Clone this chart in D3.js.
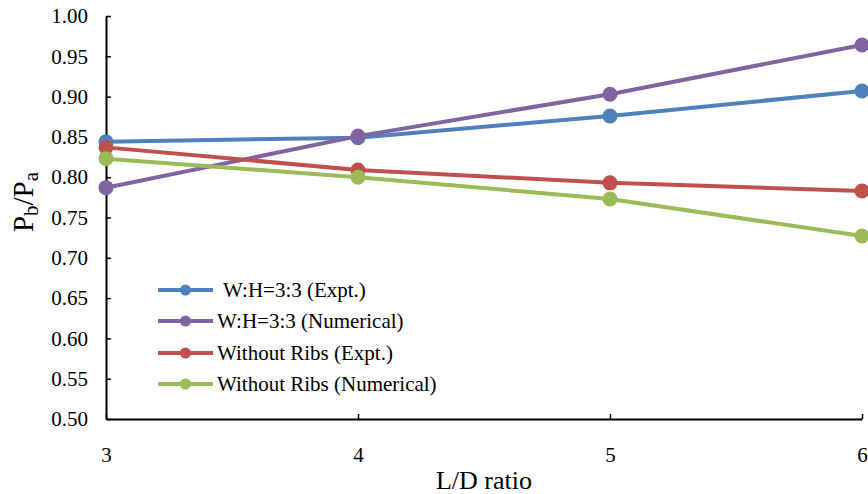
<!DOCTYPE html>
<html>
<head>
<meta charset="utf-8">
<script src="https://cdn.jsdelivr.net/npm/d3@7"></script>
<style>
  body { margin: 0; background: #fff; }
  text { font-family: "Liberation Serif", "Times New Roman", serif; fill: #000; }
</style>
</head>
<body>
<div id="chart"></div>
<script>
// chart data
var ratios = [3, 4, 5, 6];
var seriesNames = ["W:H=3:3 (Expt.)", "W:H=3:3 (Numerical)", "Without Ribs (Expt.)", "Without Ribs (Numerical)"];
var expt33 = [0.844, 0.849, 0.876, 0.907];
var num33 = [0.787, 0.851, 0.903, 0.964];
var exptNoRibs = [0.837, 0.809, 0.793, 0.783];
var numNoRibs = [0.823, 0.800, 0.773, 0.727];
var yTicks = [0.50, 0.55, 0.60, 0.65, 0.70, 0.75, 0.80, 0.85, 0.90, 0.95, 1.00];
var colors = ["#4F81BD", "#8064A2", "#C0504D", "#9BBB59"];

var svgWidth = 868;
var svgHeight = 494;
var margin = { top: 16, right: 6, bottom: 75, left: 106 };
var chartWidth = svgWidth - margin.left - margin.right;
var chartHeight = svgHeight - margin.top - margin.bottom;

var svg = d3.select("#chart")
  .append("svg")
  .attr("width", svgWidth)
  .attr("height", svgHeight);

var chartGroup = svg.append("g")
  .attr("transform", `translate(${margin.left}, ${margin.top})`);

var xScale = d3.scaleLinear().domain([3, 6]).range([0, chartWidth]);
var yScale = d3.scaleLinear().domain([0.5, 1.0]).range([chartHeight, 0]);

// axes, ticks pointing inward
var bottomAxis = d3.axisBottom(xScale).tickValues(ratios).tickFormat(d3.format("d"))
  .tickSizeInner(-5).tickSizeOuter(0).tickPadding(28);
var leftAxis = d3.axisLeft(yScale).tickValues(yTicks).tickFormat(d3.format(".2f"))
  .tickSizeInner(-5).tickSizeOuter(0).tickPadding(18);

var xAxisG = chartGroup.append("g")
  .attr("transform", `translate(0, ${chartHeight})`)
  .call(bottomAxis);
var yAxisG = chartGroup.append("g").call(leftAxis);

[xAxisG, yAxisG].forEach(function(g) {
  g.attr("font-family", null).attr("font-size", null);
  g.select(".domain").attr("stroke", "#000").attr("stroke-width", 2);
  g.selectAll(".tick line").attr("stroke", "#000").attr("stroke-width", 1.5);
  g.selectAll(".tick text").style("font-size", "21px");
});

// series
var allSeries = [expt33, num33, exptNoRibs, numNoRibs];
var line = d3.line()
  .x(function(d, i) { return xScale(ratios[i]); })
  .y(function(d) { return yScale(d); });

allSeries.forEach(function(vals, s) {
  chartGroup.append("path")
    .datum(vals)
    .attr("fill", "none")
    .attr("stroke", colors[s])
    .attr("stroke-width", 4)
    .attr("d", line);
  chartGroup.selectAll(".pt" + s)
    .data(vals)
    .enter()
    .append("circle")
    .attr("class", "pt" + s)
    .attr("cx", function(d, i) { return xScale(ratios[i]); })
    .attr("cy", function(d) { return yScale(d); })
    .attr("r", 7.5)
    .attr("fill", colors[s]);
});

// axis titles
svg.append("text")
  .attr("x", 484)
  .attr("y", 489)
  .attr("text-anchor", "middle")
  .style("font-size", "26px")
  .text("L/D ratio");

var yTitle = svg.append("text")
  .attr("transform", "translate(33, 202) rotate(-90)")
  .attr("text-anchor", "middle")
  .style("font-size", "29px");
yTitle.append("tspan").text("P");
yTitle.append("tspan").style("font-size", "21px").attr("dy", 5).text("b");
yTitle.append("tspan").attr("dy", -5).text("/P");
yTitle.append("tspan").style("font-size", "21px").attr("dy", 5).text("a");

// legend
var legendY = [290, 321, 353, 384];
var legend = svg.selectAll(".lineLegend").data(seriesNames)
  .enter().append("g")
  .attr("class", "lineLegend")
  .attr("transform", function(d, i) { return "translate(158," + legendY[i] + ")"; });

legend.append("line")
  .attr("x1", 0).attr("x2", 55)
  .attr("stroke", function(d, i) { return colors[i]; })
  .attr("stroke-width", 4);
legend.append("circle")
  .attr("cx", 27.5).attr("r", 5.5)
  .attr("fill", function(d, i) { return colors[i]; });
legend.append("text")
  .attr("x", function(d, i) { return i === 0 ? 65 : 59; })
  .attr("dy", "0.33em")
  .style("font-size", "21px")
  .text(function(d) { return d; });
</script>
</body>
</html>
